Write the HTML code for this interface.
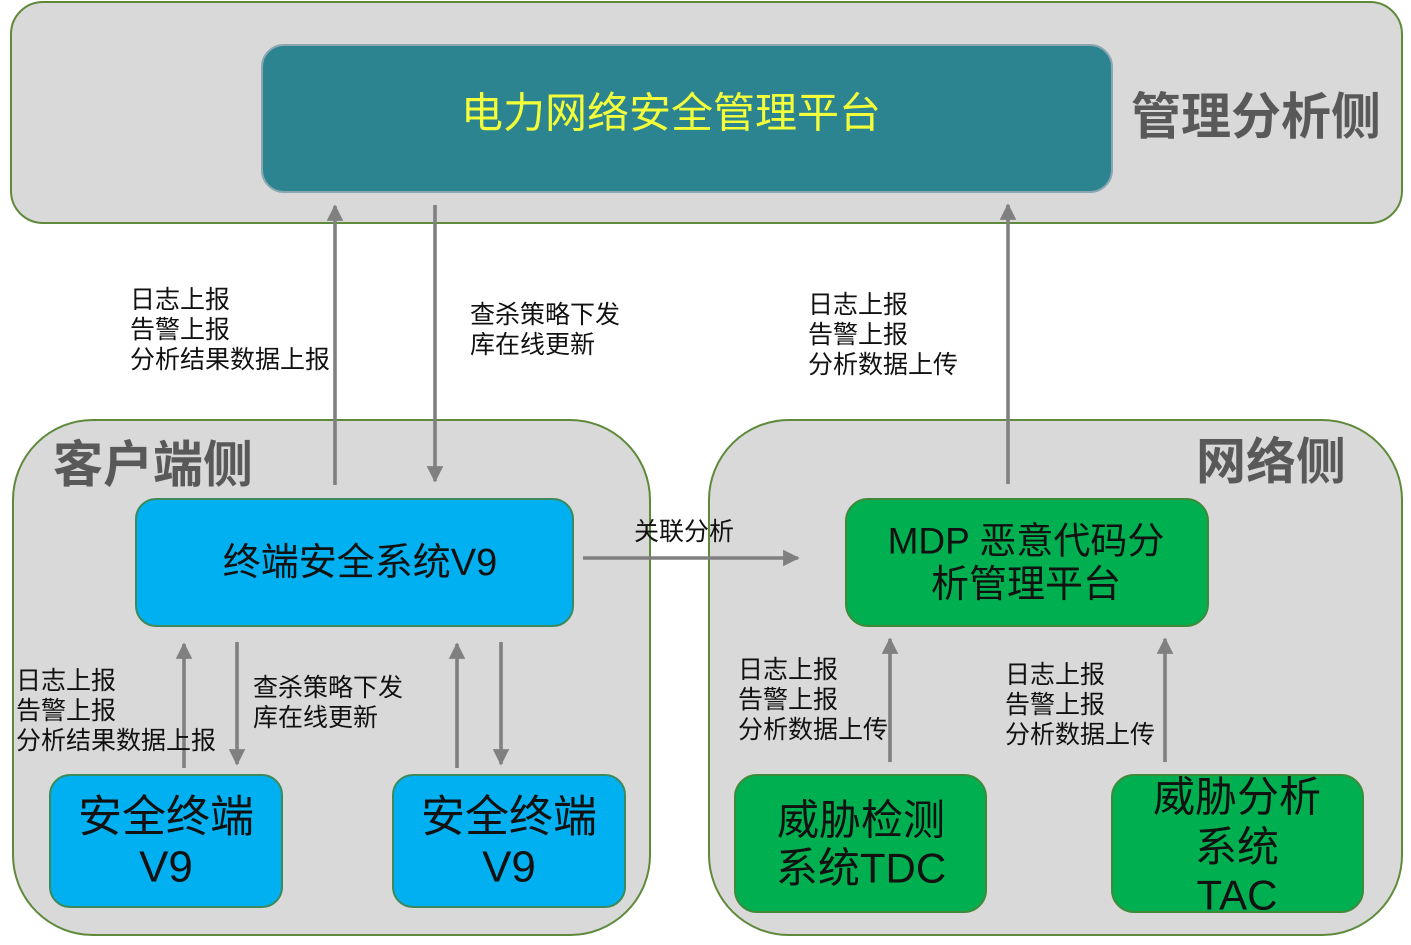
<!DOCTYPE html>
<html>
<head>
<meta charset="utf-8">
<style>
  html,body{margin:0;padding:0;background:#fff;}
  svg{display:block;}
  text{font-family:"Liberation Sans","Noto Sans CJK SC","WenQuanYi Zen Hei",sans-serif;}
  .lbl{font-size:25px;fill:#111;}
  .hd{font-size:50px;font-weight:bold;fill:#595959;}
  .bx{fill:#111;}
</style>
</head>
<body>
<svg width="1411" height="945" viewBox="0 0 1411 945" xmlns="http://www.w3.org/2000/svg">
  <defs>
    <marker id="ah" viewBox="0 0 10 10" refX="9" refY="5" markerWidth="4.6" markerHeight="4.8" markerUnits="strokeWidth" orient="auto">
      <path d="M0,0 L10,5 L0,10 z" fill="#808080"/>
    </marker>
  </defs>

  <!-- containers -->
  <rect x="11" y="2" width="1391" height="221" rx="32" ry="32" fill="#d9d9d9" stroke="#5f8a3c" stroke-width="2"/>
  <rect x="13" y="420" width="637" height="515" rx="80" ry="80" fill="#d9d9d9" stroke="#5f8a3c" stroke-width="2"/>
  <rect x="709" y="420" width="693" height="515" rx="80" ry="80" fill="#d9d9d9" stroke="#5f8a3c" stroke-width="2"/>

  <!-- top teal box -->
  <rect x="262" y="45" width="850" height="147" rx="22" ry="22" fill="#2b8490" stroke="#8aa6b0" stroke-width="2"/>
  <text x="671" y="113" font-size="42" fill="#f2ff3a" text-anchor="middle" dominant-baseline="central">电力网络安全管理平台</text>
  <text x="1131" y="117" class="hd" dominant-baseline="central">管理分析侧</text>

  <!-- section headers -->
  <text x="53" y="465" class="hd" dominant-baseline="central">客户端侧</text>
  <text x="1196" y="462" class="hd" dominant-baseline="central">网络侧</text>

  <!-- blue main box -->
  <rect x="136" y="499" width="437" height="127" rx="20" ry="20" fill="#00b0f0" stroke="#3c8a5c" stroke-width="2"/>
  <text x="360" y="563" font-size="38" class="bx" text-anchor="middle" dominant-baseline="central">终端安全系统V9</text>

  <!-- MDP box -->
  <rect x="846" y="499" width="362" height="127" rx="22" ry="22" fill="#00b050" stroke="#3f8a3a" stroke-width="2"/>
  <text x="1026" y="541" font-size="37" class="bx" text-anchor="middle" dominant-baseline="central">MDP 恶意代码分</text>
  <text x="1026" y="585" font-size="38" class="bx" text-anchor="middle" dominant-baseline="central">析管理平台</text>

  <!-- small blue boxes -->
  <rect x="50" y="775" width="232" height="132" rx="20" ry="20" fill="#00b0f0" stroke="#3c8a5c" stroke-width="2"/>
  <text x="166" y="817" font-size="44" class="bx" text-anchor="middle" dominant-baseline="central">安全终端</text>
  <text x="166" y="867" font-size="44" class="bx" text-anchor="middle" dominant-baseline="central">V9</text>
  <rect x="393" y="775" width="232" height="132" rx="20" ry="20" fill="#00b0f0" stroke="#3c8a5c" stroke-width="2"/>
  <text x="509" y="817" font-size="44" class="bx" text-anchor="middle" dominant-baseline="central">安全终端</text>
  <text x="509" y="867" font-size="44" class="bx" text-anchor="middle" dominant-baseline="central">V9</text>

  <!-- green boxes -->
  <rect x="735" y="775" width="251" height="137" rx="22" ry="22" fill="#00b050" stroke="#3f8a3a" stroke-width="2"/>
  <text x="861" y="820" font-size="42" class="bx" text-anchor="middle" dominant-baseline="central">威胁检测</text>
  <text x="861" y="868" font-size="42" class="bx" text-anchor="middle" dominant-baseline="central">系统TDC</text>
  <rect x="1112" y="775" width="251" height="137" rx="22" ry="22" fill="#00b050" stroke="#3f8a3a" stroke-width="2"/>
  <text x="1237" y="797" font-size="42" class="bx" text-anchor="middle" dominant-baseline="central">威胁分析</text>
  <text x="1237" y="847" font-size="42" class="bx" text-anchor="middle" dominant-baseline="central">系统</text>
  <text x="1237" y="895" font-size="42" class="bx" text-anchor="middle" dominant-baseline="central">TAC</text>

  <!-- arrows -->
  <g stroke="#808080" stroke-width="3.6" fill="none" marker-end="url(#ah)">
    <line x1="335" y1="485" x2="335" y2="206"/>
    <line x1="435" y1="205" x2="435" y2="481"/>
    <line x1="1008" y1="484" x2="1008" y2="205"/>
    <line x1="184" y1="768" x2="184" y2="644"/>
    <line x1="237" y1="642" x2="237" y2="764"/>
    <line x1="457" y1="768" x2="457" y2="644"/>
    <line x1="501" y1="642" x2="501" y2="764"/>
    <line x1="890" y1="762" x2="890" y2="639"/>
    <line x1="1165" y1="762" x2="1165" y2="639"/>
    <line x1="583" y1="558" x2="798" y2="558"/>
  </g>

  <!-- labels -->
  <g>
    <text x="130" y="300" class="lbl" dominant-baseline="central">日志上报</text>
    <text x="130" y="330" class="lbl" dominant-baseline="central">告警上报</text>
    <text x="130" y="360" class="lbl" dominant-baseline="central">分析结果数据上报</text>

    <text x="470" y="315" class="lbl" dominant-baseline="central">查杀策略下发</text>
    <text x="470" y="345" class="lbl" dominant-baseline="central">库在线更新</text>

    <text x="808" y="305" class="lbl" dominant-baseline="central">日志上报</text>
    <text x="808" y="335" class="lbl" dominant-baseline="central">告警上报</text>
    <text x="808" y="365" class="lbl" dominant-baseline="central">分析数据上传</text>

    <text x="634" y="532" class="lbl" dominant-baseline="central">关联分析</text>

    <text x="16" y="681" class="lbl" dominant-baseline="central">日志上报</text>
    <text x="16" y="711" class="lbl" dominant-baseline="central">告警上报</text>
    <text x="16" y="741" class="lbl" dominant-baseline="central">分析结果数据上报</text>

    <text x="253" y="688" class="lbl" dominant-baseline="central">查杀策略下发</text>
    <text x="253" y="718" class="lbl" dominant-baseline="central">库在线更新</text>

    <text x="738" y="670" class="lbl" dominant-baseline="central">日志上报</text>
    <text x="738" y="700" class="lbl" dominant-baseline="central">告警上报</text>
    <text x="738" y="730" class="lbl" dominant-baseline="central">分析数据上传</text>

    <text x="1005" y="675" class="lbl" dominant-baseline="central">日志上报</text>
    <text x="1005" y="705" class="lbl" dominant-baseline="central">告警上报</text>
    <text x="1005" y="735" class="lbl" dominant-baseline="central">分析数据上传</text>
  </g>
</svg>
</body>
</html>
